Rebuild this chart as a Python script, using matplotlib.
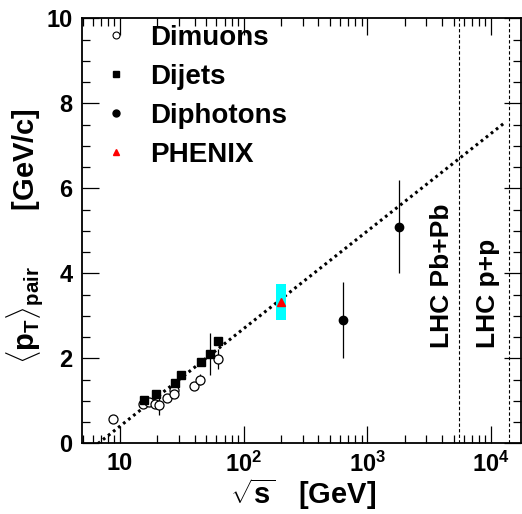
import matplotlib
matplotlib.use("Agg")
import matplotlib.pyplot as plt
from matplotlib.lines import Line2D
from matplotlib.patches import Rectangle
import matplotlib.ticker as mticker
import numpy as np

plt.rcParams['font.family'] = ['Liberation Sans', 'DejaVu Sans']
plt.rcParams['font.weight'] = 'bold'
plt.rcParams['mathtext.fontset'] = 'custom'
plt.rcParams['mathtext.rm'] = 'Liberation Sans:bold'
plt.rcParams['mathtext.bf'] = 'Liberation Sans:bold'
plt.rcParams['mathtext.it'] = 'Liberation Sans:bold'
plt.rcParams['mathtext.sf'] = 'Liberation Sans:bold'

# ---- data ----
dimuon_s = [8.7, 15.3, 17.0, 19.2, 20.6, 23.8, 27.4, 27.4, 39.3, 44.0, 61.5]
dimuon_pt = [0.57, 0.92, 0.98, 0.92, 0.89, 1.06, 1.25, 1.17, 1.36, 1.50, 1.98]
dimuon_err = [0.0, 0.0, 0.0, 0.0, 0.22, 0.0, 0.10, 0.0, 0.0, 0.13, 0.24]

dijet_s = [15.7, 19.7, 27.9, 31.0, 45.0, 53.0, 62.4]
dijet_pt = [1.02, 1.16, 1.43, 1.60, 1.91, 2.10, 2.40]
dijet_err = [0.0, 0.0, 0.0, 0.0, 0.0, 0.50, 0.0]

diphoton_s = [630.0, 1800.0]
diphoton_pt = [2.90, 5.10]
diphoton_err = [0.89, 1.10]

phenix_s = [200.0]
phenix_pt = [3.33]
phenix_sys = [0.42]

fit_a = -1.891      # <pT> = fit_a + fit_b * log10(sqrt s)
fit_b = 2.295
fit_range = [5.0, 13000.0]

lhc_energies = [5500.0, 14000.0]
lhc_labels = ['LHC Pb+Pb', 'LHC p+p']

legend_labels = ['Dimuons', 'Dijets', 'Diphotons', 'PHENIX']

xticks = [10, 100, 1000, 10000]
xticklabels = ['10', r'$10^{2}$', r'$10^{3}$', r'$10^{4}$']
yticks = [0, 2, 4, 6, 8, 10]

# ---- figure ----
W, H = 522, 514
fig = plt.figure(figsize=(W / 100, H / 100), dpi=100)
ax = fig.add_axes([82 / W, (H - 443.3) / H, (521 - 82) / W, (443.3 - 18.3) / H])
ax.set_xscale('log')
ax.set_xlim(4.92, 17500)
ax.set_ylim(0, 10)

# fit line
xs = np.logspace(np.log10(fit_range[0]), np.log10(fit_range[1]), 200)
ax.plot(xs, fit_a + fit_b * np.log10(xs), color='black', lw=2.2,
        linestyle=(0, (0.9, 1.2)), zorder=2)

# LHC lines
for e in lhc_energies:
    ax.axvline(e, color='black', lw=0.8, linestyle=(0, (3, 2)), zorder=1)

ax.text(4050, 2.24, lhc_labels[0], rotation=90, ha='center', va='bottom',
        fontsize=19, fontweight='bold')
ax.text(9400, 2.24, lhc_labels[1], rotation=90, ha='center', va='bottom',
        fontsize=19, fontweight='bold')

# PHENIX box
hw = 0.043
for s, p, sy in zip(phenix_s, phenix_pt, phenix_sys):
    ax.add_patch(Rectangle((s * 10 ** (-hw), p - sy), s * 10 ** hw - s * 10 ** (-hw), 2 * sy,
                           facecolor='#00ffff', edgecolor='none', zorder=3))
ax.plot(phenix_s, phenix_pt, marker='^', color='red', ms=6, ls='none', zorder=5)

# data
ax.errorbar(dimuon_s, dimuon_pt, yerr=dimuon_err, fmt='o', ms=6.5, mfc='white',
            mec='black', mew=0.9, ecolor='black', elinewidth=0.9, capsize=0, zorder=4)
ax.errorbar(dijet_s, dijet_pt, yerr=dijet_err, fmt='s', ms=6, mfc='black',
            mec='black', ecolor='black', elinewidth=0.9, capsize=0, zorder=4)
ax.errorbar(diphoton_s, diphoton_pt, yerr=diphoton_err, fmt='o', ms=6, mfc='black',
            mec='black', ecolor='black', elinewidth=0.9, capsize=0, zorder=4)

# axes style
ax.set_xticks(xticks)
ax.set_xticklabels(xticklabels)
ax.xaxis.set_minor_locator(mticker.LogLocator(base=10, subs=np.arange(2, 10)))
ax.xaxis.set_minor_formatter(mticker.NullFormatter())
ax.set_yticks(yticks)
ax.yaxis.set_minor_locator(mticker.MultipleLocator(0.5))
ax.tick_params(which='both', direction='in', top=True, right=True, width=0.9)
ax.tick_params(which='major', length=12, labelsize=17)
ax.tick_params(which='minor', length=6)
ax.tick_params(axis='x', which='major', pad=6)
ax.tick_params(axis='y', which='major', pad=7)
for sp in ax.spines.values():
    sp.set_linewidth(1.3)

# legend
handles = [
    Line2D([], [], marker='o', ls='none', mfc='white', mec='black', ms=5, mew=0.8),
    Line2D([], [], marker='s', ls='none', color='black', ms=5),
    Line2D([], [], marker='o', ls='none', color='black', ms=5),
    Line2D([], [], marker='^', ls='none', color='red', ms=5),
]
ax.legend(handles, legend_labels, loc='upper left', bbox_to_anchor=(108 / W, 1 - 25 / H),
          bbox_transform=fig.transFigure, frameon=False,
          handlelength=0.6, handletextpad=0.92, labelspacing=0.465, borderpad=0,
          borderaxespad=0, prop={'weight': 'bold', 'size': 20})

# axis labels
fig.text(25 / W, 1 - 236 / H, r'$\langle p_{T}\rangle_{pair}$       [GeV/c]', rotation=90,
         ha='center', va='center', fontsize=21, fontweight='bold')
fig.text(303 / W, 1 - 494 / H, r'$\sqrt{s}$   [GeV]', ha='center', va='center',
         fontsize=21, fontweight='bold')

fig.savefig('out.png', dpi=100)
